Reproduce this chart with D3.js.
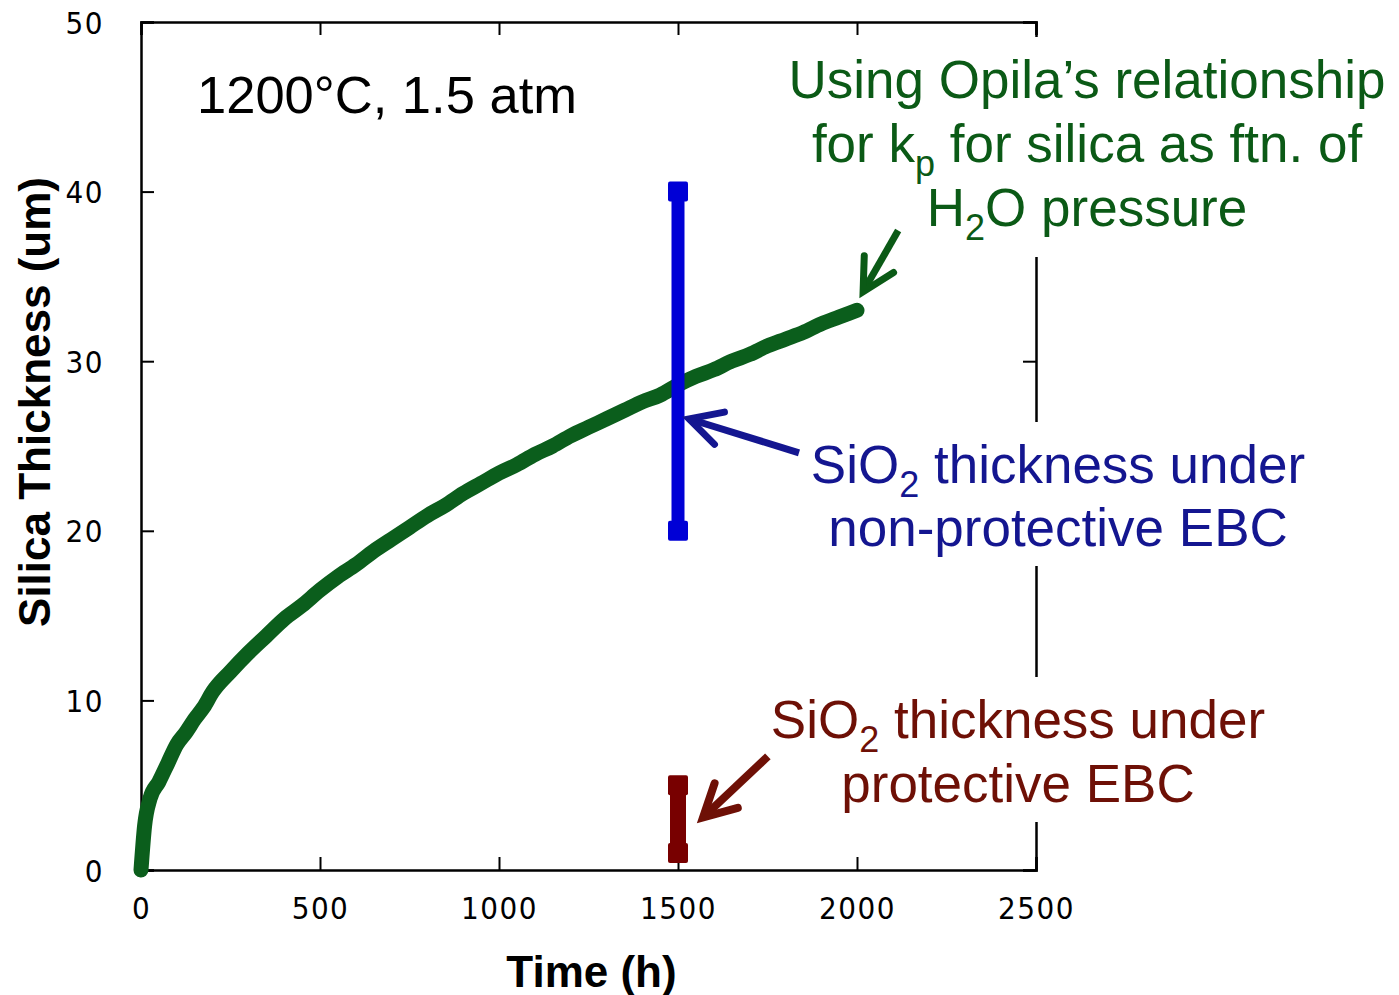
<!DOCTYPE html>
<html>
<head>
<meta charset="utf-8">
<script src="https://cdn.jsdelivr.net/npm/d3@7"></script>
<style>
  html, body { margin: 0; padding: 0; background: #fff; }
  svg { display: block; }
</style>
</head>
<body>
<svg id="chart" width="1399" height="995"></svg>
<script>
// Silica scale growth versus time (1200°C, 1.5 atm)
const timeH = [0, 10, 25, 50, 75, 100, 125, 150, 175, 200, 250, 300, 350, 400, 450, 500,
  550, 600, 650, 700, 750, 800, 850, 900, 950, 1000, 1050, 1100, 1150, 1200, 1250,
  1300, 1350, 1400, 1450, 1500, 1550, 1600, 1650, 1700, 1750, 1800, 1850, 1900, 1950, 2000];
const thicknessUm = [0, 2.6, 4.2, 5.2, 6.3, 7.4, 8.1, 8.9, 9.6, 10.5, 11.7, 12.8, 13.8, 14.8, 15.6, 16.5,
  17.3, 18.0, 18.8, 19.5, 20.2, 20.9, 21.5, 22.2, 22.8, 23.4, 23.9, 24.5, 25.0, 25.6, 26.1,
  26.6, 27.1, 27.6, 28.0, 28.6, 29.1, 29.5, 30.0, 30.4, 30.9, 31.3, 31.7, 32.2, 32.6, 33.0];

// Measured thickness ranges at 1500 h
const ebcTime = 1500;
const nonProtectiveRange = [20, 40];
const protectiveRange = [1, 5];

const xTicks = [0, 500, 1000, 1500, 2000, 2500];
const yTicks = [0, 10, 20, 30, 40, 50];

const svg = d3.select("#chart");
const margin = { left: 141, right: 1036, top: 22, bottom: 870 };

const x = d3.scaleLinear().domain([0, 2500]).range([margin.left, margin.right]);
const y = d3.scaleLinear().domain([0, 50]).range([margin.bottom, margin.top]);

const tickFont = "'DejaVu Sans Condensed', 'Liberation Sans Narrow', 'Liberation Sans', sans-serif";
const mainFont = "'Liberation Sans', Arial, Helvetica, sans-serif";
const tickLen = 13;
const fmt = d3.format("d");

// Axes with inward ticks on all four sides
const gBottom = svg.append("g").attr("transform", `translate(0,${margin.bottom})`)
  .call(d3.axisBottom(x).tickValues(xTicks).tickFormat(fmt).tickSize(-tickLen).tickPadding(tickLen + 14));
const gTop = svg.append("g").attr("transform", `translate(0,${margin.top})`)
  .call(d3.axisTop(x).tickValues(xTicks).tickSize(-tickLen).tickFormat(""));
const gLeft = svg.append("g").attr("transform", `translate(${margin.left},0)`)
  .call(d3.axisLeft(y).tickValues(yTicks).tickFormat(fmt).tickSize(-tickLen).tickPadding(tickLen + 24));
const gRight = svg.append("g").attr("transform", `translate(${margin.right},0)`)
  .call(d3.axisRight(y).tickValues(yTicks).tickSize(-tickLen).tickFormat(""));

[gBottom, gTop, gLeft, gRight].forEach(g => {
  g.select(".domain").attr("stroke", "#000").attr("stroke-width", 2.5);
  g.selectAll(".tick line").attr("stroke", "#000").attr("stroke-width", 2);
  g.selectAll(".tick text")
    .attr("fill", "#000")
    .style("font-family", tickFont)
    .style("font-size", "31px")
    .style("font-weight", "300")
    .style("letter-spacing", "1.5px");
});
gLeft.selectAll(".tick text").attr("dy", "0.36em");
gBottom.selectAll(".tick text").attr("dy", "0.72em");

// Axis titles
svg.append("text")
  .attr("x", (margin.left + margin.right) / 2 + 3)
  .attr("y", 987)
  .attr("text-anchor", "middle")
  .style("font-family", mainFont)
  .style("font-weight", "bold")
  .style("font-size", "44px")
  .text("Time (h)");

svg.append("text")
  .attr("transform", "translate(50,402) rotate(-90)")
  .attr("text-anchor", "middle")
  .style("font-family", mainFont)
  .style("font-weight", "bold")
  .style("font-size", "44px")
  .text("Silica Thickness (um)");

// Parabolic growth curve
const growth = timeH.map((t, i) => [t, thicknessUm[i]]);
svg.append("path")
  .datum(growth)
  .attr("fill", "none")
  .attr("stroke", "#0b5e1c")
  .attr("stroke-width", 15)
  .attr("stroke-linecap", "round")
  .attr("stroke-linejoin", "round")
  .attr("d", d3.line().x(d => x(d[0])).y(d => y(d[1])).curve(d3.curveMonotoneX));

// Range bars with square end caps
function rangeBar(range, color, width) {
  const g = svg.append("g");
  g.append("line")
    .attr("x1", x(ebcTime)).attr("x2", x(ebcTime))
    .attr("y1", y(range[0])).attr("y2", y(range[1]))
    .attr("stroke", color).attr("stroke-width", width);
  g.selectAll("rect").data(range).join("rect")
    .attr("x", x(ebcTime) - 10).attr("y", d => y(d) - 10)
    .attr("width", 20).attr("height", 20)
    .attr("rx", 2)
    .attr("fill", color);
}
rangeBar(nonProtectiveRange, "#0000d6", 13);
rangeBar(protectiveRange, "#780000", 16);

// Annotation labels on white boxes
const subShift = 14;
function label(lines, cx, baseline0, lineGap, color) {
  const g = svg.append("g");
  const bg = g.append("rect").attr("fill", "#fff");
  const t = g.append("text")
    .attr("text-anchor", "middle")
    .attr("fill", color)
    .style("font-family", mainFont)
    .style("font-size", "53px");
  lines.forEach((parts, i) => {
    const line = t.append("tspan").attr("x", cx).attr("y", baseline0 + i * lineGap);
    let pending = 0;
    parts.forEach(p => {
      if (typeof p === "object") {
        line.append("tspan").attr("dy", subShift - pending).style("font-size", "36px").text(p.subscript);
        pending = subShift;
      } else {
        line.append("tspan").attr("dy", -pending).text(p);
        pending = 0;
      }
    });
  });
  const b = t.node().getBBox();
  bg.attr("x", b.x - 8).attr("y", b.y - 13)
    .attr("width", b.width + 16).attr("height", b.height + 22);
  return g;
}

label([["Using Opila\u2019s relationship"],
       ["for k", { subscript: "p" }, " for silica as ftn. of"],
       ["H", { subscript: "2" }, "O pressure"]],
      1087, 98, 64, "#0b5a16");

label([["SiO", { subscript: "2" }, " thickness under"],
       ["non-protective EBC"]],
      1058, 483, 63, "#141690");

label([["SiO", { subscript: "2" }, " thickness under"],
       ["protective EBC"]],
      1018, 738, 64, "#6e1006");

svg.append("text")
  .attr("x", 197).attr("y", 113)
  .attr("fill", "#000")
  .style("font-family", mainFont)
  .style("font-size", "52.5px")
  .text("1200\u00B0C, 1.5 atm");

// Arrows pointing from labels to marks (tail and tip in data units)
const arrows = [
  { tail: [2115, 37.7], tip: [2017, 34.1], color: "#0b5a16", w: 7 },
  { tail: [1838, 24.6], tip: [1531, 26.6], color: "#141690", w: 7 },
  { tail: [1751, 6.7], tip: [1570, 3.1], color: "#6e1006", w: 8 }
];
arrows.forEach(a => {
  const tx = x(a.tip[0]), ty = y(a.tip[1]);
  const sx = x(a.tail[0]), sy = y(a.tail[1]);
  const ang = Math.atan2(sy - ty, sx - tx);
  const L = 36, th = 28 * Math.PI / 180;
  const p1 = [tx + L * Math.cos(ang + th), ty + L * Math.sin(ang + th)];
  const p2 = [tx + L * Math.cos(ang - th), ty + L * Math.sin(ang - th)];
  const g = svg.append("g").attr("stroke", a.color).attr("stroke-width", a.w).attr("fill", "none");
  g.append("line").attr("x1", sx).attr("y1", sy)
    .attr("x2", tx + 3 * Math.cos(ang)).attr("y2", ty + 3 * Math.sin(ang));
  g.append("path")
    .attr("stroke-linejoin", "miter")
    .attr("stroke-linecap", "round")
    .attr("d", `M${p1[0]},${p1[1]}L${tx},${ty}L${p2[0]},${p2[1]}`);
});
</script>
</body>
</html>
